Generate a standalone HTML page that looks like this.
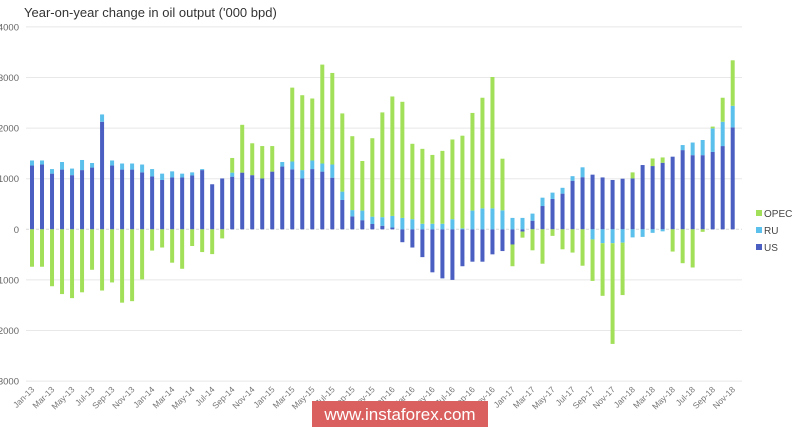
<!DOCTYPE html>
<html><head><meta charset="utf-8"><style>
body{margin:0;background:#fff;}
svg{display:block;font-family:"Liberation Sans",sans-serif;}
</style></head><body>
<svg id="chart" width="800" height="431" viewBox="0 0 800 431">
<text x="24" y="17" font-size="13" fill="#333">Year-on-year change in oil output ('000 bpd)</text>
<g id="grid"></g><g id="bars"></g><g id="xlabels"></g>
<g font-size="10" fill="#444">
<g><rect x="756" y="210" width="6" height="6" fill="#a3e05a"/><text x="764" y="217">OPEC</text></g>
<g><rect x="756" y="227" width="6" height="6" fill="#5bc0eb"/><text x="764" y="234">RU</text></g>
<g><rect x="756" y="244" width="6" height="6" fill="#4a5fc1"/><text x="764" y="251">US</text></g>
</g>
<g><rect x="312" y="401" width="176" height="26" fill="#d9605e"/><text x="400" y="420" font-size="17" fill="#fff" text-anchor="middle">www.instaforex.com</text></g>
</svg>
<script>
const us=[1260,1280,1100,1180,1070,1170,1220,2125,1260,1180,1180,1125,1045,975,1025,1025,1065,1170,890,1005,1040,1120,1070,1005,1140,1240,1185,1005,1190,1140,1020,580,255,180,105,70,35,-255,-360,-550,-850,-970,-1000,-730,-640,-640,-495,-430,-300,-45,170,460,600,705,960,1030,1080,1025,975,1000,1005,1270,1250,1315,1435,1565,1465,1465,1530,1645,2015];
const ru=[100,80,90,150,130,200,90,145,100,120,120,155,145,125,120,75,60,20,0,0,80,0,0,0,0,90,155,165,170,160,260,165,125,190,145,170,230,225,200,110,110,110,200,20,370,415,415,375,225,225,140,165,125,115,90,195,-200,-275,-275,-265,-160,-150,-70,-40,0,100,250,300,465,480,425];
const opec=[-740,-740,-1125,-1280,-1360,-1245,-800,-1210,-1050,-1450,-1420,-990,-420,-360,-660,-780,-330,-450,-490,-180,290,945,630,640,505,0,1460,1480,1225,1955,1810,1545,1460,980,1550,2070,2360,2295,1490,1480,1360,1440,1575,1830,1930,2185,2595,1020,-430,-120,-415,-680,-130,-395,-460,-720,-820,-1040,-1990,-1035,120,0,150,105,-440,-670,-755,-50,35,475,900];
const yTicks=[4000,3000,2000,1000,0,-1000,-2000,-3000];
const monthNames=["Jan","Feb","Mar","Apr","May","Jun","Jul","Aug","Sep","Oct","Nov","Dec"];
const NS="http://www.w3.org/2000/svg";
const y=v=>229.3-v*0.0506;
const x=i=>32+i*10.01;
function mk(tag,attrs,parent){const e=document.createElementNS(NS,tag);for(const k in attrs)e.setAttribute(k,attrs[k]);parent.appendChild(e);return e;}
const grid=document.getElementById('grid');
yTicks.forEach(t=>{
 const l=mk('line',{x1:26,x2:742,y1:y(t),y2:y(t),stroke:t===0?'#d8d8d8':'#e8e8e8','stroke-width':1,'stroke-dasharray':t===0?'3,2':''},grid);
 
 
 const tx=mk('text',{x:19,y:y(t)+3.5,'font-size':9.5,fill:'#666','text-anchor':'end'},grid);
 tx.textContent=String(t);
 
 
});
const bars=document.getElementById('bars');
const series=[['us',us,'#4a5fc1'],['ru',ru,'#5bc0eb'],['opec',opec,'#a3e05a']];
for(let i=0;i<us.length;i++){
 let pos=0,neg=0;
 series.forEach(([nm,arr,col])=>{
  const v=arr[i]; if(!v)return;
  let a,b;
  if(v>0){a=pos;b=pos+v;pos=b;}else{a=neg;b=neg+v;neg=b;}
  const r=mk('rect',{x:x(i)-2,y:Math.min(y(a),y(b)),width:4,height:Math.abs(y(a)-y(b)),fill:col},bars);
  
  
 });
 if(i%2===0){
  const lab=monthNames[i%12]+'-'+(13+Math.floor(i/12));
  const t=mk('text',{x:x(i)+3,y:390,'font-size':8.5,fill:'#777','text-anchor':'end',transform:`rotate(-45 ${x(i)+3} 390)`},document.getElementById('xlabels'));
  t.textContent=lab;
  
  
 }
}
</script>
</body></html>
